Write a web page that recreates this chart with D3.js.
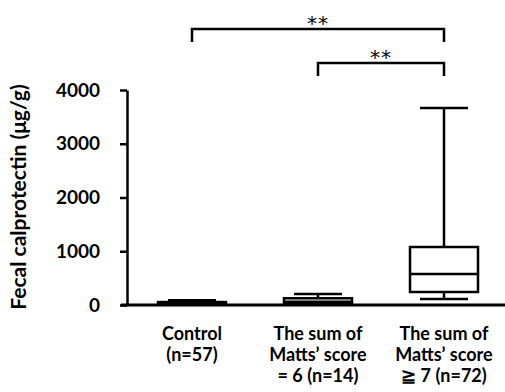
<!DOCTYPE html>
<html>
<head>
<meta charset="utf-8">
<script src="https://cdn.jsdelivr.net/npm/d3@7"></script>
<style>
  body { margin: 0; background: #fff; }
  text { font-family: Lato, "Open Sans", sans-serif; fill: #000; }
</style>
</head>
<body>
<div id="chart"></div>
<script>
// data
const groups = ["Control", "Matts6", "Matts7"];
const groupLabels = [
    ["Control", "(n=57)"],
    ["The sum of", "Matts\u2019 score", "= 6 (n=14)"],
    ["The sum of", "Matts\u2019 score", "\u2267 7 (n=72)"]
];
const whiskerLow = [5, 25, 112];
const q1 = [15, 40, 242];
const median = [30, 60, 577];
const q3 = [55, 125, 1079];
const whiskerHigh = [90, 205, 3665];
const yTicks = [0, 1000, 2000, 3000, 4000];
// significance brackets: [from group, to group, label]
const brackets = [
    ["Control", "Matts7", "**"],
    ["Matts6", "Matts7", "**"]
];

const width = 505, height = 392;

const svg = d3.select("#chart")
    .append("svg")
    .attr("width", width)
    .attr("height", height);

let x = d3.scaleBand()
    .domain(groups)
    .range([129, 507]);

let y = d3.scaleLinear()
    .domain([0, 4000])
    .range([305, 90]);

const boxW = 68, capW = 48;
const cx = function (g) { return x(g) + x.bandwidth() / 2; };

// y axis
let yAxis = svg.append("g")
    .attr("transform", "translate(127,0)")
    .call(d3.axisLeft(y).tickValues(yTicks).tickFormat(d3.format("d"))
        .tickSize(7).tickPadding(20).tickSizeOuter(0));
yAxis.select(".domain").attr("stroke-width", 2.5);
yAxis.selectAll(".tick line").attr("stroke-width", 2.5);
yAxis.selectAll(".tick text")
    .style("font-family", "Lato, sans-serif")
    .style("font-size", "19px")
    .style("font-weight", "bold")
    .style("fill", "#000");

// x axis line
svg.append("line")
    .attr("x1", 121).attr("x2", 505)
    .attr("y1", y(0)).attr("y2", y(0))
    .attr("stroke", "#000")
    .attr("stroke-width", 3);

// y axis title
svg.append("text")
    .attr("transform", "translate(26,197) rotate(-90)")
    .style("text-anchor", "middle")
    .style("font-size", "21px")
    .style("font-weight", "bold")
    .text("Fecal calprotectin (\u03bcg/g)");

// boxes
const data = groups.map(function (g, i) {
    return { g: g, lo: whiskerLow[i], q1: q1[i], med: median[i], q3: q3[i], hi: whiskerHigh[i] };
});

let boxes = svg.selectAll(".box").data(data).enter()
    .append("g").attr("class", "box");

boxes.append("line") // whisker
    .attr("x1", function (d) { return cx(d.g); })
    .attr("x2", function (d) { return cx(d.g); })
    .attr("y1", function (d) { return y(d.lo); })
    .attr("y2", function (d) { return y(d.hi); })
    .attr("stroke", "#000").attr("stroke-width", 2.5);

boxes.selectAll(".cap")
    .data(function (d) { return [{ g: d.g, v: d.lo }, { g: d.g, v: d.hi }]; })
    .enter().append("line")
    .attr("x1", function (d) { return cx(d.g) - capW / 2; })
    .attr("x2", function (d) { return cx(d.g) + capW / 2; })
    .attr("y1", function (d) { return y(d.v); })
    .attr("y2", function (d) { return y(d.v); })
    .attr("stroke", "#000").attr("stroke-width", 2.5);

boxes.append("rect")
    .attr("x", function (d) { return cx(d.g) - boxW / 2; })
    .attr("y", function (d) { return y(d.q3); })
    .attr("width", boxW)
    .attr("height", function (d) { return y(d.q1) - y(d.q3); })
    .attr("fill", "#fff")
    .attr("stroke", "#000").attr("stroke-width", 2.5);

boxes.append("line") // median
    .attr("x1", function (d) { return cx(d.g) - boxW / 2; })
    .attr("x2", function (d) { return cx(d.g) + boxW / 2; })
    .attr("y1", function (d) { return y(d.med); })
    .attr("y2", function (d) { return y(d.med); })
    .attr("stroke", "#000").attr("stroke-width", 2.5);

// significance brackets
const bracketY = [29, 63];
brackets.forEach(function (b, i) {
    let x1 = cx(b[0]), x2 = cx(b[1]), by = bracketY[i];
    svg.append("path")
        .attr("d", `M${x1},${by + 13}V${by}H${x2}V${by + 13}`)
        .attr("fill", "none")
        .attr("stroke", "#000")
        .attr("stroke-width", 2.5);
    svg.append("text")
        .attr("x", (x1 + x2) / 2)
        .attr("y", by + 1)
        .style("text-anchor", "middle")
        .style("font-family", "'DejaVu Sans', sans-serif")
        .style("font-size", "20px")
        .style("letter-spacing", "1px")
        .style("fill", "#000")
        .text(b[2]);
});

// category labels
groups.forEach(function (g, i) {
    let t = svg.append("text")
        .attr("x", cx(g))
        .attr("y", 340)
        .style("text-anchor", "middle")
        .style("font-size", "18px")
        .style("font-weight", "bold");
    groupLabels[i].forEach(function (line, j) {
        t.append("tspan")
            .attr("x", cx(g))
            .attr("dy", j === 0 ? 0 : 21)
            .text(line);
    });
});
</script>
</body>
</html>
